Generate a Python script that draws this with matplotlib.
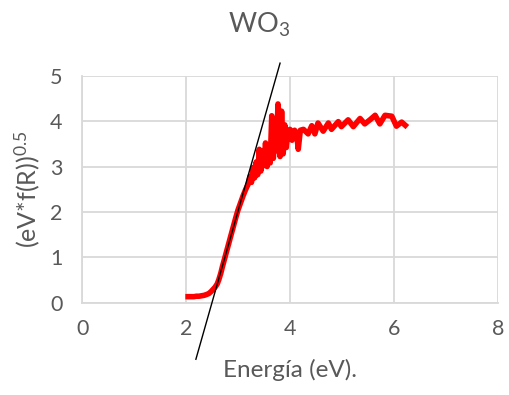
import matplotlib
matplotlib.use("Agg")
import matplotlib.pyplot as plt

energy = [2.04, 2.10, 2.15, 2.20, 2.25, 2.30, 2.35, 2.40, 2.44, 2.48, 2.52, 2.56, 2.60,
          2.63, 2.67, 2.70, 2.75, 2.80, 2.85, 2.90, 2.95, 3.00, 3.05, 3.10, 3.15, 3.20,
          3.23, 3.26, 3.29, 3.32, 3.35, 3.38, 3.41, 3.44, 3.47, 3.50, 3.53, 3.56, 3.59,
          3.62, 3.65, 3.68, 3.71, 3.74, 3.77, 3.79, 3.81, 3.84, 3.87, 3.90, 3.93, 3.96,
          4.00, 4.04, 4.09, 4.13, 4.16, 4.20, 4.26, 4.35, 4.42, 4.48, 4.54, 4.64, 4.74,
          4.80, 4.93, 4.99, 5.12, 5.22, 5.35, 5.44, 5.54, 5.64, 5.73, 5.83, 5.96, 6.05,
          6.15, 6.22]
signal = [0.13, 0.13, 0.13, 0.14, 0.14, 0.15, 0.16, 0.18, 0.20, 0.24, 0.29, 0.34, 0.41,
          0.50, 0.65, 0.79, 1.00, 1.21, 1.42, 1.63, 1.84, 2.04, 2.20, 2.36, 2.50, 2.62,
          2.78, 2.65, 2.98, 2.75, 3.10, 2.82, 3.38, 2.90, 3.35, 3.02, 3.52, 3.00, 3.40,
          3.08, 4.12, 3.18, 3.62, 3.35, 4.38, 4.12, 3.22, 4.22, 3.28, 3.92, 3.42, 3.78,
          3.82, 3.58, 3.80, 3.72, 3.38, 3.80, 3.82, 3.72, 3.90, 3.72, 3.96, 3.78, 3.96,
          3.82, 3.99, 3.88, 4.03, 3.88, 4.06, 3.94, 4.03, 4.13, 3.94, 4.13, 4.11, 3.89,
          3.98, 3.91]

tangent_x = [2.19, 3.81]
tangent_y = [-1.25, 5.28]

xticks = [0, 2, 4, 6, 8]
yticks = [0, 1, 2, 3, 4, 5]

plt.rcParams['font.family'] = ['Lato', 'DejaVu Sans']
plt.rcParams['mathtext.fontset'] = 'custom'
plt.rcParams['mathtext.rm'] = 'Lato'
plt.rcParams['mathtext.it'] = 'Lato'
plt.rcParams['mathtext.default'] = 'rm'
gray = '#595959'
grid = '#d9d9d9'

fig = plt.figure(figsize=(5.1, 3.95), dpi=100)
ax = fig.add_axes([0.161, 0.234, 0.815, 0.574])

ax.plot(energy, signal, color='#ff0000', lw=4.0, solid_joinstyle='round', zorder=3)
ax.plot(tangent_x, tangent_y, color='black', lw=1.0, clip_on=False, zorder=4)

ax.set_xlim(0, 8)
ax.set_ylim(0, 5)
ax.set_xticks(xticks)
ax.set_yticks(yticks)
ax.grid(True, color=grid, lw=1.3)
ax.set_axisbelow(True)
for s in ['top', 'right']:
    ax.spines[s].set_visible(False)
for s in ['left', 'bottom']:
    ax.spines[s].set_color(grid)
    ax.spines[s].set_linewidth(1.3)
ax.tick_params(length=0, labelsize=15.5, labelcolor=gray)
ax.tick_params(axis='x', pad=12)
ax.tick_params(axis='y', pad=14)

ax.set_title('WO$_3$', fontsize=19.5, color=gray, pad=31, x=0.425)
ax.set_xlabel('Energía (eV).', fontsize=17.5, color=gray, labelpad=14)
ax.set_ylabel('(eV*f(R))$^{0.5}$', fontsize=18, color=gray, labelpad=6)

fig.savefig('out.png', dpi=100)
